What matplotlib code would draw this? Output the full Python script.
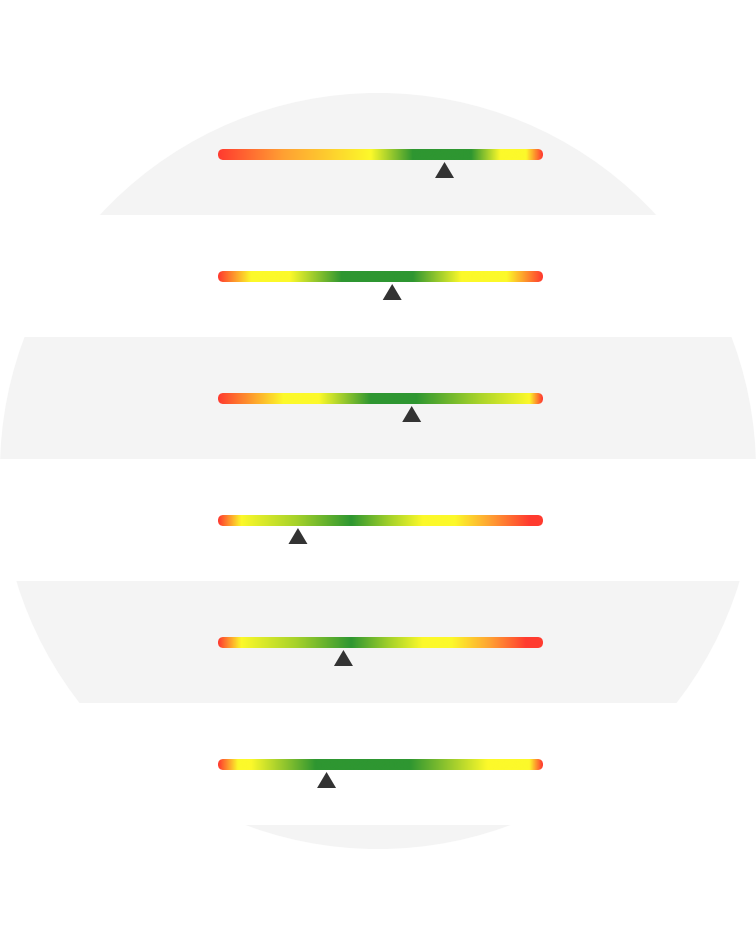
import numpy as np
import matplotlib
matplotlib.use("Agg")
import matplotlib.pyplot as plt
from matplotlib.colors import LinearSegmentedColormap
from matplotlib.patches import Circle, Rectangle, FancyBboxPatch, Polygon

# ---------------- data ----------------
values = [69.7, 53.6, 59.6, 24.6, 38.6, 33.4]   # marker position on a 0-100 scale

RED, ORANGE, YELLOW, YGREEN, GREEN = "#ff3b2f", "#ffa033", "#fcf92a", "#a6d22a", "#2e9631"

stops = [
    [(0.0, RED), (0.2, ORANGE), (0.47, YELLOW), (0.6, GREEN), (0.78, GREEN), (0.87, YELLOW), (0.95, YELLOW), (1.0, RED)],
    [(0.0, RED), (0.1, YELLOW), (0.22, YELLOW), (0.38, GREEN), (0.6, GREEN), (0.75, YELLOW), (0.89, YELLOW), (1.0, RED)],
    [(0.0, RED), (0.2, YELLOW), (0.31, YELLOW), (0.47, GREEN), (0.61, GREEN), (0.8, YGREEN), (0.96, YELLOW), (1.0, RED)],
    [(0.0, RED), (0.07, YELLOW), (0.24, YGREEN), (0.41, GREEN), (0.53, YGREEN), (0.63, YELLOW), (0.73, YELLOW), (0.84, ORANGE), (0.96, RED), (1.0, RED)],
    [(0.0, RED), (0.07, YELLOW), (0.24, YGREEN), (0.41, GREEN), (0.53, YGREEN), (0.63, YELLOW), (0.72, YELLOW), (0.84, ORANGE), (0.95, RED), (1.0, RED)],
    [(0.0, RED), (0.06, YELLOW), (0.1, YELLOW), (0.3, GREEN), (0.59, GREEN), (0.83, YELLOW), (0.96, YELLOW), (1.0, RED)],
]

BG_GRAY = "#f4f4f4"
TRI = "#333333"

# ---------------- figure ----------------
W, H = 756, 945
fig = plt.figure(figsize=(W / 100, H / 100), dpi=100)
fig.patch.set_facecolor("white")

# background axes in pixel coordinates
bg = fig.add_axes([0, 0, 1, 1])
bg.set_xlim(0, W)
bg.set_ylim(H, 0)
bg.axis("off")

cx, cy, r = 378, 472, 378
circ = Circle((cx, cy), r, facecolor="none", edgecolor="none")
bg.add_patch(circ)
band_top = cy - r
band_h = 122
n_bands = 7
for i in range(n_bands):
    color = BG_GRAY if i % 2 == 0 else "white"
    rect = Rectangle((0, band_top + i * band_h), W, band_h, facecolor=color, edgecolor="none")
    bg.add_patch(rect)
    rect.set_clip_path(circ)

# overlay axes for the gauges: x = value scale 0..100, y = row index
x0_px, x1_px = 218, 543
row0_px = 155.5
ax = fig.add_axes([x0_px / W, 0, (x1_px - x0_px) / W, 1])
ax.set_xlim(0, 100)
ax.set_ylim((H - row0_px) / band_h, -row0_px / band_h)
ax.axis("off")
ax.patch.set_alpha(0)

bar_h = 11 / band_h
px_x = 100 / (x1_px - x0_px)      # value units per pixel
px_y = 1 / band_h                  # row units per pixel
rad = 5.5 * px_x
tri_w = 19 * px_x
tri_h = 16 * px_y
tri_off = 7.5 * px_y

for i, (v, st) in enumerate(zip(values, stops)):
    cmap = LinearSegmentedColormap.from_list(f"g{i}", st)
    grad = np.linspace(0, 1, 512).reshape(1, -1)
    im = ax.imshow(grad, cmap=cmap, aspect="auto",
                   extent=(0, 100, i + bar_h / 2, i - bar_h / 2),
                   interpolation="bilinear")
    clip = FancyBboxPatch((0, i - bar_h / 2), 100, bar_h,
                          boxstyle=f"round,pad=0,rounding_size={rad}",
                          mutation_aspect=px_y / px_x,
                          facecolor="none", edgecolor="none", transform=ax.transData)
    ax.add_patch(clip)
    im.set_clip_path(clip)

    tri = Polygon([(v - tri_w / 2, i + tri_off + tri_h),
                   (v + tri_w / 2, i + tri_off + tri_h),
                   (v, i + tri_off)],
                  closed=True, facecolor=TRI, edgecolor="none")
    ax.add_patch(tri)

ax.set_xlim(0, 100)
ax.set_ylim((H - row0_px) / band_h, -row0_px / band_h)

fig.savefig("out.png", dpi=100, facecolor="white")
